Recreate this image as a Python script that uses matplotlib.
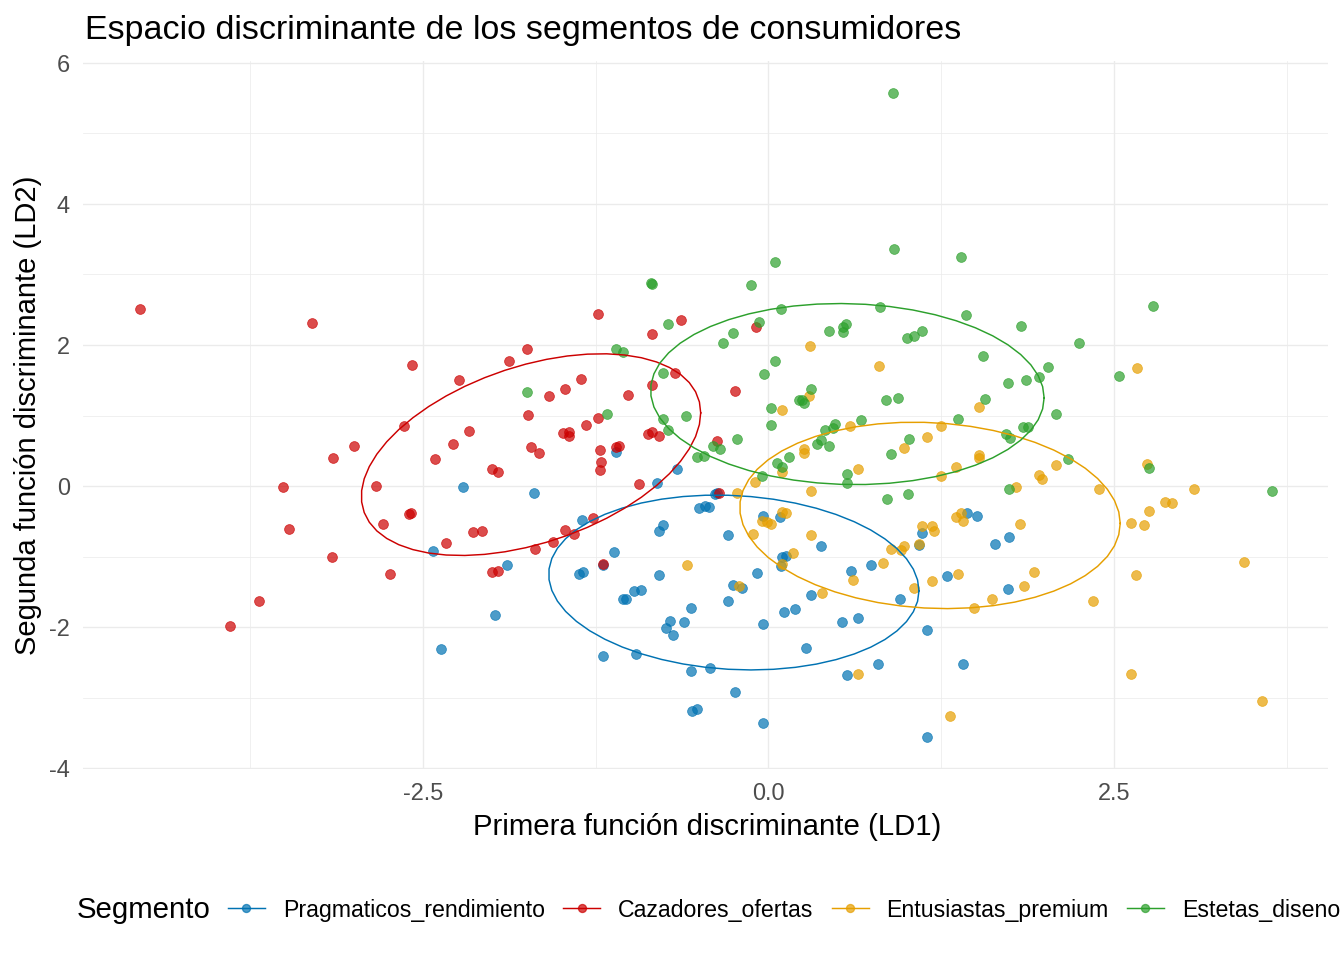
import numpy as np
import matplotlib
matplotlib.use("Agg")
import matplotlib.pyplot as plt
from matplotlib.lines import Line2D

plt.rcParams['font.family'] = ['Liberation Sans', 'DejaVu Sans']

# ---------------- data ----------------
segments = ["Pragmaticos_rendimiento", "Cazadores_ofertas", "Entusiastas_premium", "Estetas_diseno"]
colors = ["#0072B2", "#CC0000", "#E69F00", "#2CA02C"]

blue_x = [-2.21,-2.43,-1.98,-2.37,-1.10,-0.66,-1.70,-0.81,-0.39,-0.37,
          -0.50,-0.46,-0.43,-1.35,-0.76,-0.79,-0.29,-0.04,0.08,-1.12,
          -1.89,-1.37,-1.34,-1.20,-0.79,-0.08,0.10,0.13,0.09,-0.26,
          -0.19,-1.05,-1.03,-0.97,-0.92,-0.56,-0.29,0.11,0.19,-0.71,
          -0.74,-0.61,-0.69,-0.04,-1.20,-0.96,1.44,1.51,1.11,1.09,
          0.38,1.64,1.74,0.74,0.60,1.29,1.73,0.31,0.95,0.53,
          0.65,1.15,0.27,0.79,0.57,1.41,-0.56,-0.42,-0.24,-0.55,
          -0.52,-0.04,1.15]
blue_y = [-0.01,-0.92,-1.83,-2.31,0.48,0.24,-0.10,0.04,-0.11,-0.10,
          -0.31,-0.28,-0.30,-0.48,-0.55,-0.64,-0.70,-0.43,-0.44,-0.94,
          -1.12,-1.25,-1.22,-1.12,-1.26,-1.23,-1.01,-0.99,-1.13,-1.40,
          -1.45,-1.60,-1.60,-1.49,-1.48,-1.73,-1.63,-1.79,-1.74,-1.91,
          -2.01,-1.93,-2.11,-1.96,-2.41,-2.38,-0.38,-0.43,-0.67,-0.84,
          -0.85,-0.82,-0.72,-1.12,-1.21,-1.28,-1.46,-1.55,-1.60,-1.93,
          -1.87,-2.04,-2.30,-2.52,-2.68,-2.52,-2.62,-2.58,-2.92,-3.19,
          -3.16,-3.36,-3.56]

red_x = [-4.55,-3.30,-2.58,-2.24,-2.17,-2.28,-2.41,-2.00,-1.96,-2.64,
         -3.00,-3.15,-3.51,-2.84,-2.60,-2.59,-2.79,-3.47,-2.33,-2.14,
         -2.07,-3.16,-2.74,-2.00,-1.96,-3.69,-3.90,-1.23,-0.63,-0.84,
         -0.09,-1.75,-1.88,-0.68,-0.84,-1.36,-1.47,-1.59,-1.02,-0.24,
         -1.74,-1.23,-1.32,-1.49,-1.44,-1.44,-0.87,-0.84,-0.79,-1.72,
         -1.66,-1.22,-1.08,-1.10,-1.21,-1.22,-0.37,-0.94,-0.36,-1.27,
         -1.47,-1.41,-1.56,-1.69,-1.20]
red_y = [2.51,2.31,1.72,1.50,0.78,0.60,0.38,0.24,0.20,0.85,
         0.57,0.40,-0.01,0.00,-0.40,-0.38,-0.54,-0.61,-0.81,-0.65,
         -0.64,-1.01,-1.25,-1.22,-1.21,-1.63,-1.99,2.44,2.35,2.16,
         2.26,1.94,1.77,1.60,1.43,1.52,1.38,1.28,1.29,1.35,
         1.01,0.96,0.87,0.75,0.77,0.71,0.74,0.77,0.71,0.55,
         0.47,0.51,0.57,0.55,0.34,0.23,0.64,0.03,-0.10,-0.45,
         -0.62,-0.68,-0.79,-0.89,-1.11]

orange_x = [0.30,0.29,0.10,0.10,0.26,0.26,0.80,1.52,2.67,0.59,
            1.25,1.15,0.98,1.52,1.52,0.65,1.36,2.08,2.74,1.96,
            1.98,1.79,2.39,3.08,2.87,2.92,2.75,2.62,2.72,1.82,
            1.25,0.31,1.36,1.39,1.41,1.11,1.18,1.20,0.31,0.18,
            0.89,0.96,0.98,1.09,0.83,0.61,1.18,1.37,1.92,1.85,
            1.05,0.39,1.62,1.49,2.35,0.65,1.31,0.10,-0.23,-0.10,
            0.10,0.13,-0.05,-0.01,0.02,-0.11,-0.59,-0.21,2.66,3.44,
            2.62,3.57]
orange_y = [1.99,1.28,1.08,0.20,0.52,0.47,1.70,1.12,1.67,0.85,
            0.85,0.70,0.54,0.44,0.40,0.24,0.27,0.30,0.31,0.16,
            0.10,-0.01,-0.04,-0.04,-0.23,-0.24,-0.35,-0.52,-0.55,-0.54,
            0.14,-0.07,-0.44,-0.38,-0.50,-0.57,-0.57,-0.64,-0.70,-0.95,
            -0.89,-0.91,-0.85,-0.82,-1.09,-1.33,-1.35,-1.25,-1.22,-1.42,
            -1.45,-1.52,-1.60,-1.73,-1.63,-2.67,-3.26,-1.11,-0.10,0.06,
            -0.37,-0.38,-0.50,-0.51,-0.54,-0.68,-1.12,-1.42,-1.26,-1.08,
            -2.67,-3.05]

green_x = [0.05,-0.85,-0.84,-0.13,-0.73,-0.07,0.09,-0.26,-0.33,-1.10,
           -1.05,0.05,-0.03,-0.76,-1.75,0.31,0.22,0.24,0.26,0.02,
           -1.17,-0.76,-0.60,0.02,-0.73,-0.40,-0.35,-0.23,-0.52,-0.47,
           0.06,0.10,0.15,0.35,-0.05,0.91,1.39,0.81,1.43,1.83,
           2.78,0.44,0.54,0.56,0.54,1.00,1.05,1.11,2.25,1.55,
           2.02,1.96,1.73,1.86,2.54,0.85,0.94,1.57,1.37,2.08,
           0.67,0.48,0.47,0.41,0.38,0.44,1.02,1.72,1.75,1.84,
           1.88,0.89,2.17,2.75,0.57,0.57,0.86,1.01,1.74,3.64,
           0.90]
green_y = [3.18,2.88,2.87,2.85,2.30,2.33,2.51,2.17,2.03,1.94,
           1.90,1.77,1.59,1.60,1.33,1.38,1.22,1.22,1.18,1.11,
           1.02,0.95,0.99,0.87,0.79,0.57,0.52,0.67,0.41,0.43,
           0.33,0.27,0.41,0.60,0.14,3.36,3.25,2.54,2.43,2.27,
           2.55,2.20,2.26,2.30,2.18,2.10,2.13,2.20,2.03,1.84,
           1.69,1.55,1.46,1.50,1.56,1.22,1.25,1.23,0.95,1.02,
           0.94,0.88,0.82,0.79,0.65,0.57,0.67,0.74,0.68,0.84,
           0.84,0.45,0.38,0.26,0.17,0.04,-0.18,-0.11,-0.04,-0.07,
           5.57]

xs = [blue_x, red_x, orange_x, green_x]
ys = [blue_y, red_y, orange_y, green_y]

x_ticks = [-2.5, 0.0, 2.5]
x_tick_labels = ["-2.5", "0.0", "2.5"]
y_ticks = [-4, -2, 0, 2, 4, 6]
y_tick_labels = ["-4", "-2", "0", "2", "4", "6"]

title = "Espacio discriminante de los segmentos de consumidores"
xlabel = "Primera función discriminante (LD1)"
ylabel = "Segunda función discriminante (LD2)"
legend_title = "Segmento"
ellipse_level = 0.68


# ---------------- helpers (stat_ellipse, type = "t") ----------------
def cov_trob(X, nu=5, maxit=25, tol=0.01):
    n, p = X.shape
    wt = np.ones(n)
    loc = X.mean(axis=0)
    w = np.sqrt(wt)
    Xc = X - loc
    for _ in range(maxit):
        w0 = w
        Xc = X - loc
        A = np.sqrt(w / w.sum())[:, None] * Xc
        _, d, Vt = np.linalg.svd(A, full_matrices=False)
        wX = Xc @ Vt.T @ np.diag(1.0 / d)
        Q = (wX ** 2).sum(axis=1)
        w = (wt * (nu + p)) / (nu + Q)
        loc = (w[:, None] * X).sum(axis=0) / w.sum()
        if np.all(np.abs(w - w0) < tol):
            break
    S = np.sqrt(w)[:, None] * Xc
    cov = S.T @ S / wt.sum()
    return cov, loc


def ellipse_path(x, y, level=0.95, segments=51):
    X = np.column_stack([x, y])
    n = X.shape[0]
    cov, center = cov_trob(X)
    m = n - 1
    fq = (m / 2.0) * ((1 - level) ** (-2.0 / m) - 1)  # qf(level, 2, m)
    radius = np.sqrt(2 * fq)
    R = np.linalg.cholesky(cov).T
    ang = np.linspace(0, 2 * np.pi, segments + 1)
    circ = np.column_stack([np.cos(ang), np.sin(ang)])
    pts = center + radius * (circ @ R)
    return pts[:, 0], pts[:, 1]


# ---------------- figure ----------------
W, H = 1344, 960
fig = plt.figure(figsize=(W / 96, H / 96), dpi=96)

allx = np.concatenate([np.array(v) for v in xs])
ally = np.concatenate([np.array(v) for v in ys])
xr = allx.max() - allx.min()
yr = ally.max() - ally.min()
xlim = (allx.min() - 0.05 * xr, allx.max() + 0.05 * xr)
ylim = (ally.min() - 0.05 * yr, ally.max() + 0.05 * yr)

ax = fig.add_axes([83.1 / W, 1 - 769.2 / H, (1328.1 - 83.1) / W, (769.2 - 61.1) / H])
ax.set_xlim(*xlim)
ax.set_ylim(*ylim)
for s in ax.spines.values():
    s.set_visible(False)

ax.set_xticks(x_ticks)
ax.set_xticklabels(x_tick_labels)
ax.set_yticks(y_ticks)
ax.set_yticklabels(y_tick_labels)
ax.set_xticks([-3.75, -1.25, 1.25, 3.75], minor=True)
ax.set_yticks([-3, -1, 1, 3, 5], minor=True)
ax.tick_params(which='both', length=0)
ax.tick_params(axis='x', labelsize=17.6, labelcolor='#4D4D4D', pad=9.5)
ax.tick_params(axis='y', labelsize=17.6, labelcolor='#4D4D4D', pad=10)
ax.grid(which='major', color='#EBEBEB', linewidth=1.0)
ax.grid(which='minor', color='#EBEBEB', linewidth=0.55)
ax.set_axisbelow(True)

for x, y, c in zip(xs, ys, colors):
    ax.scatter(x, y, s=54, color=c, alpha=0.7, edgecolors=c, linewidths=0.6, zorder=3)

for x, y, c in zip(xs, ys, colors):
    ex, ey = ellipse_path(np.array(x), np.array(y), level=ellipse_level)
    ax.plot(ex, ey, color=c, linewidth=1.1, zorder=4)

fig.text(85 / W, 1 - 31 / H, title, fontsize=25.5, ha='left', va='center', color='black')
fig.text(707 / W, 1 - 827 / H, xlabel, fontsize=22, ha='center', va='center', color='black')
fig.text(28 / W, 1 - 415 / H, ylabel, fontsize=21.8, ha='center', va='center',
         rotation=90, color='black')

# legend
fig.text(77 / W, 1 - 910 / H, legend_title, fontsize=22, ha='left', va='center', color='black')
handles = []
for c in colors:
    handles.append(Line2D([], [], color=c, linewidth=1.1, marker='o', markersize=6,
                          markerfacecolor=matplotlib.colors.to_rgba(c, 0.7),
                          markeredgecolor=matplotlib.colors.to_rgba(c, 0.7)))
fig.legend(handles, segments, ncol=4, loc='center left',
           bbox_to_anchor=(228 / W, 1 - 910 / H), frameon=False, fontsize=17.3,
           handlelength=1.6, handletextpad=0.77, columnspacing=0.8,
           borderpad=0, borderaxespad=0)

fig.savefig("out.png", dpi=96, facecolor='white')
